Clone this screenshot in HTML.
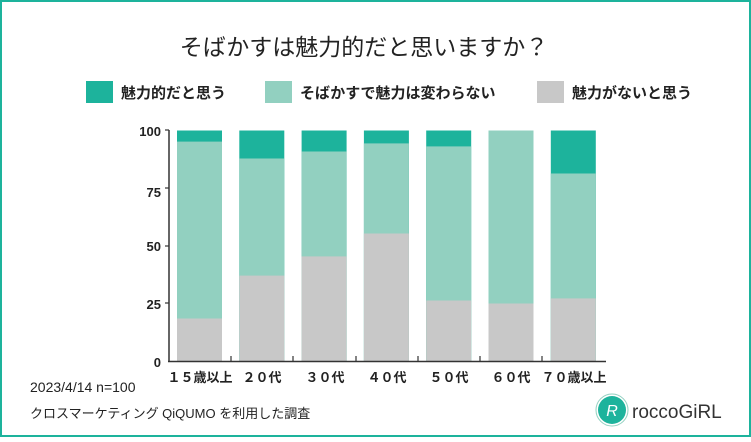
<!DOCTYPE html>
<html><head><meta charset="utf-8"><style>
body{margin:0;width:751px;height:437px;overflow:hidden;background:#fff}
svg text{font-family:"Liberation Sans","Noto Sans CJK JP",sans-serif}
</style></head><body>
<svg width="751" height="437" xmlns="http://www.w3.org/2000/svg">
<rect x="1" y="1" width="749" height="435" fill="#fff" stroke="#1db39c" stroke-width="2"/>
<text x="364" y="55" font-size="23" text-anchor="middle" fill="#222">そばかすは魅力的だと思いますか？</text>
<rect x="86" y="81" width="27" height="22" fill="#1db39c"/>
<text x="121" y="98" font-size="15" font-weight="bold" fill="#222">魅力的だと思う</text>
<rect x="265" y="81" width="27" height="22" fill="#92d0c0"/>
<text x="300" y="98" font-size="15" font-weight="bold" fill="#222">そばかすで魅力は変わらない</text>
<rect x="537" y="81" width="27" height="22" fill="#c8c8c8"/>
<text x="572" y="98" font-size="15" font-weight="bold" fill="#222">魅力がないと思う</text>
<g font-size="13" font-weight="bold" fill="#222" text-anchor="end">
<text x="161" y="136">100</text><text x="161" y="197">75</text><text x="161" y="251">50</text><text x="161" y="309">25</text><text x="161" y="367">0</text>
</g>
<g>
<rect x="177" y="130.5" width="45" height="231" fill="#1db39c"/>
<rect x="177" y="141.6" width="45" height="219.9" fill="#92d0c0"/>
<rect x="177" y="318.5" width="45" height="43" fill="#c8c8c8"/>
<rect x="239.3" y="130.5" width="45" height="231" fill="#1db39c"/>
<rect x="239.3" y="158.5" width="45" height="203" fill="#92d0c0"/>
<rect x="239.3" y="275.6" width="45" height="85.9" fill="#c8c8c8"/>
<rect x="301.6" y="130.5" width="45" height="231" fill="#1db39c"/>
<rect x="301.6" y="151.5" width="45" height="210" fill="#92d0c0"/>
<rect x="301.6" y="256.4" width="45" height="105.1" fill="#c8c8c8"/>
<rect x="363.9" y="130.5" width="45" height="231" fill="#1db39c"/>
<rect x="363.9" y="143.4" width="45" height="218.1" fill="#92d0c0"/>
<rect x="363.9" y="233.5" width="45" height="128" fill="#c8c8c8"/>
<rect x="426.2" y="130.5" width="45" height="231" fill="#1db39c"/>
<rect x="426.2" y="146.4" width="45" height="215.1" fill="#92d0c0"/>
<rect x="426.2" y="300.5" width="45" height="61" fill="#c8c8c8"/>
<rect x="488.5" y="130.5" width="45" height="231" fill="#92d0c0"/>
<rect x="488.5" y="303.5" width="45" height="58" fill="#c8c8c8"/>
<rect x="550.8" y="130.5" width="45" height="231" fill="#1db39c"/>
<rect x="550.8" y="173.5" width="45" height="188" fill="#92d0c0"/>
<rect x="550.8" y="298.4" width="45" height="63.1" fill="#c8c8c8"/>
</g>
<line x1="169" y1="130" x2="169" y2="362" stroke="#333" stroke-width="1.5"/>
<line x1="168" y1="361.5" x2="606" y2="361.5" stroke="#333" stroke-width="1.5"/>
<g stroke="#333" stroke-width="1.2">
<line x1="165" y1="130" x2="169" y2="130"/><line x1="165" y1="188" x2="169" y2="188"/><line x1="165" y1="246" x2="169" y2="246"/><line x1="165" y1="303" x2="169" y2="303"/>
<line x1="231" y1="356" x2="231" y2="362"/><line x1="293" y1="356" x2="293" y2="362"/><line x1="356" y1="356" x2="356" y2="362"/><line x1="418" y1="356" x2="418" y2="362"/><line x1="480" y1="356" x2="480" y2="362"/><line x1="542" y1="356" x2="542" y2="362"/>
</g>
<g font-size="13" font-weight="bold" fill="#222" text-anchor="middle">
<text x="200" y="382">１５歳以上</text><text x="262" y="382">２０代</text><text x="325" y="382">３０代</text><text x="387" y="382">４０代</text><text x="449" y="382">５０代</text><text x="511" y="382">６０代</text><text x="574" y="382">７０歳以上</text>
</g>
<text x="30" y="392" font-size="14" fill="#222">2023/4/14  n=100</text>
<text x="30" y="418" font-size="13" fill="#222">クロスマーケティング QiQUMO を利用した調査</text>
<circle cx="612" cy="410" r="14" fill="#1db39c"/>
<circle cx="612" cy="410" r="16" fill="none" stroke="#92d0c0" stroke-width="1"/>
<text x="612" y="416" font-size="16" fill="#fff" text-anchor="middle" font-style="italic">R</text>
<text x="632" y="418" font-size="19" fill="#333">roccoGiRL</text>
</svg>
</body></html>
